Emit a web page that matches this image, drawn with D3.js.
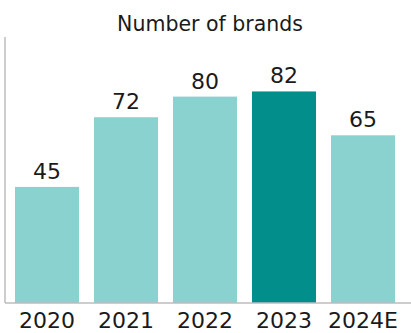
<!DOCTYPE html>
<html><head><meta charset="utf-8">
<script src="https://cdn.jsdelivr.net/npm/d3@7"></script>
<style>html,body{margin:0;padding:0;background:#fff;}</style>
</head><body>
<svg id="c" width="411" height="333"></svg>
<script>
const categories = ["2020","2021","2022","2023","2024E"];
const values = [45,72,80,82,65];
const highlight = ["2023"];
const title = "Number of brands";

(function(){
const svg = d3.select("#c");
const font = "'DejaVu Sans', Verdana, sans-serif";
const base = 303, axisTop = 37, left = 5;

const x = d3.scaleBand().domain(categories).range([7.5, 402.5]).paddingInner(0.19).paddingOuter(0.095);
const y = d3.scaleLinear().domain([0, 85]).range([base, base - 85*2.58]);

svg.append("text").attr("x", 210).attr("y", 31).attr("text-anchor","middle")
  .attr("font-family", font).attr("font-size", 20.5).attr("fill","#1a1a1a").text(title);

svg.selectAll("rect.bar").data(categories).join("rect").attr("class","bar")
  .attr("x", d => x(d)).attr("width", x.bandwidth())
  .attr("y", (d,i) => y(values[i])).attr("height", (d,i) => base - y(values[i]))
  .attr("fill", d => highlight.includes(d) ? "#028f8b" : "#89d2d0");

svg.selectAll("text.val").data(categories).join("text").attr("class","val")
  .attr("x", d => x(d) + x.bandwidth()/2).attr("y", (d,i) => y(values[i]) - 8)
  .attr("text-anchor","middle").attr("font-family", font).attr("font-size", 22).attr("fill","#1a1a1a")
  .text((d,i) => values[i]);

const xAxis = svg.append("g").attr("transform", `translate(0,${base})`)
  .call(d3.axisBottom(x).tickSize(0).tickPadding(8));
xAxis.select(".domain").remove();
xAxis.selectAll("text").attr("font-family", font).attr("font-size", 22).attr("fill","#1a1a1a")
  .attr("dy", "0.71em").attr("y", 9);

svg.append("line").attr("x1", left).attr("x2", 411).attr("y1", base).attr("y2", base)
  .attr("stroke","#bdbdbd").attr("stroke-width",1.5);
svg.append("line").attr("x1", left).attr("x2", left).attr("y1", axisTop).attr("y2", base)
  .attr("stroke","#bdbdbd").attr("stroke-width",1.5);
})();
</script>
</body></html>
